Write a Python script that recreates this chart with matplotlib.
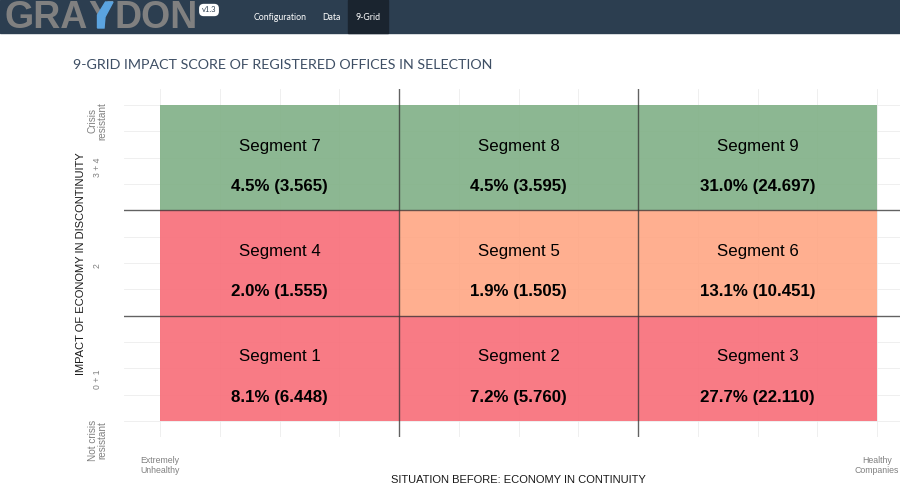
import matplotlib
matplotlib.use('Agg')
import matplotlib.pyplot as plt
from matplotlib.patches import Rectangle, Polygon

W, H = 900, 488

segments = ['Segment 1', 'Segment 2', 'Segment 3',
            'Segment 4', 'Segment 5', 'Segment 6',
            'Segment 7', 'Segment 8', 'Segment 9']
percents = ['8.1%', '7.2%', '27.7%', '2.0%', '1.9%', '13.1%', '4.5%', '4.5%', '31.0%']
counts = ['6.448', '5.760', '22.110', '1.555', '1.505', '10.451', '3.565', '3.595', '24.697']
col_idx = [0, 1, 2, 0, 1, 2, 0, 1, 2]
row_idx = [0, 0, 0, 1, 1, 1, 2, 2, 2]
# drawn at alpha 0.9 so the grid shows faintly through
cell_colors = ['#f86d78', '#f86d78', '#f86d78',
               '#f86d78', '#ffa684', '#ffa684',
               '#80b086', '#80b086', '#80b086']
x_ticks = [0, 3]
x_ticklabels = ['Extremely\nUnhealthy', 'Healthy\nCompanies']
y_ticks = [-0.18, 0.40, 1.48, 2.41, 2.85]
y_ticklabels = ['Not crisis\nresistant', '0 + 1', '2', '3 + 4', 'Crisis\nresistant']
y_ticksizes = [7.2, 6.2, 6.2, 6.2, 7.2]
nav_items = ['Configuration', 'Data', '9-Grid']
nav_x = [280.5, 331, 368.5]

fig = plt.figure(figsize=(9, 4.88), dpi=100, facecolor='white')


def px(x, y):
    return x / W, 1 - y / H


# navbar
fig.patches.append(Rectangle((0, 1 - 33 / H), 1, 33 / H, transform=fig.transFigure, color='#2c3e50'))
fig.patches.append(Rectangle(px(348, 33), 40 / W, 33 / H, transform=fig.transFigure, color='#1a242f'))
for name, xp in zip(nav_items, nav_x):
    fig.text(*px(xp, 17), name, color='white', fontsize=6.3, family='Lato', ha='center', va='center')

# logo
logo_kw = dict(color='#808080', fontsize=27, family='Liberation Sans', fontweight='bold', va='baseline', ha='left')
fig.text(*px(5, 28), 'GRA', **logo_kw)
fig.text(*px(88.5, 28), 'Y', **logo_kw)
fig.patches.append(Polygon([px(97.5, 28), px(104, 28), px(105, 17), px(113, 2), px(105.5, 2), px(97.5, 15)],
                           transform=fig.transFigure, color='#5ba4e0', zorder=5))
fig.text(*px(114, 28), 'DON', **logo_kw)
fig.text(*px(209, 10), 'v1.3', color='#2c3e50', fontsize=5.5, family='Lato', ha='center', va='center',
         bbox=dict(boxstyle='round,pad=0.35,rounding_size=0.6', fc='white', ec='none'))

fig.text(*px(73, 65), '9-GRID IMPACT SCORE OF REGISTERED OFFICES IN SELECTION',
         color='#3e4f65', fontsize=10.25, family='Lato', ha='left', va='center')

# plot panel
ax = fig.add_axes([124 / W, 1 - 437 / H, 776 / W, 348 / H])
ax.set_xlim(-36 / 239, 740 / 239)
ax.set_ylim(-16 / 105.33, 332 / 105.33)
for s in ax.spines.values():
    s.set_visible(False)
ax.set_xticks([i * 0.25 for i in range(13)])
ax.set_yticks([i * 0.25 for i in range(13)])
ax.tick_params(length=0, labelleft=False, labelbottom=False)
ax.grid(True, color='#ececec', linewidth=0.6)
ax.set_axisbelow(True)

for c, r, col, seg, pc, cnt in zip(col_idx, row_idx, cell_colors, segments, percents, counts):
    ax.add_patch(Rectangle((c, r), 1, 1, facecolor=col, alpha=0.9, edgecolor='none', zorder=2))
    ax.text(c + 0.5, r + 0.61, seg, ha='center', va='center', fontsize=12.2, family='Liberation Sans', zorder=4)
    ax.text(c + 0.5, r + 0.225, f'{pc} ({cnt})', ha='center', va='center', fontsize=12.2,
            family='Liberation Sans', fontweight='bold', zorder=4)

for v in [1, 2]:
    ax.axvline(v, color='#333333', alpha=0.75, linewidth=1.0, zorder=3)
    ax.axhline(v, color='#333333', alpha=0.75, linewidth=1.0, zorder=3)

# tick labels
for xv, lab in zip(x_ticks, x_ticklabels):
    ax.annotate(lab, (xv, 0), xycoords=('data', 'axes fraction'), xytext=(0, -14), textcoords='offset points',
                ha='center', va='top', fontsize=6.3, color='#808080', family='Liberation Sans', linespacing=1.05)
for yv, lab, fs in zip(y_ticks, y_ticklabels, y_ticksizes):
    ax.annotate(lab, (-26.5 / 776, yv), xycoords=('axes fraction', 'data'), annotation_clip=False,
                ha='center', va='center', rotation=90, fontsize=fs, color='#808080',
                family='Liberation Sans', linespacing=1.0, multialignment='center')

fig.text(*px(518.5, 480), 'SITUATION BEFORE: ECONOMY IN CONTINUITY', ha='center', va='center',
         fontsize=7.97, family='Liberation Sans', color='#1a1a1a')
fig.text(*px(81, 263.5), 'IMPACT OF ECONOMY IN DISCONTINUITY', ha='center', va='center', rotation=90,
         fontsize=8.02, family='Liberation Sans', color='#1a1a1a')

fig.savefig('out.png', dpi=100)
